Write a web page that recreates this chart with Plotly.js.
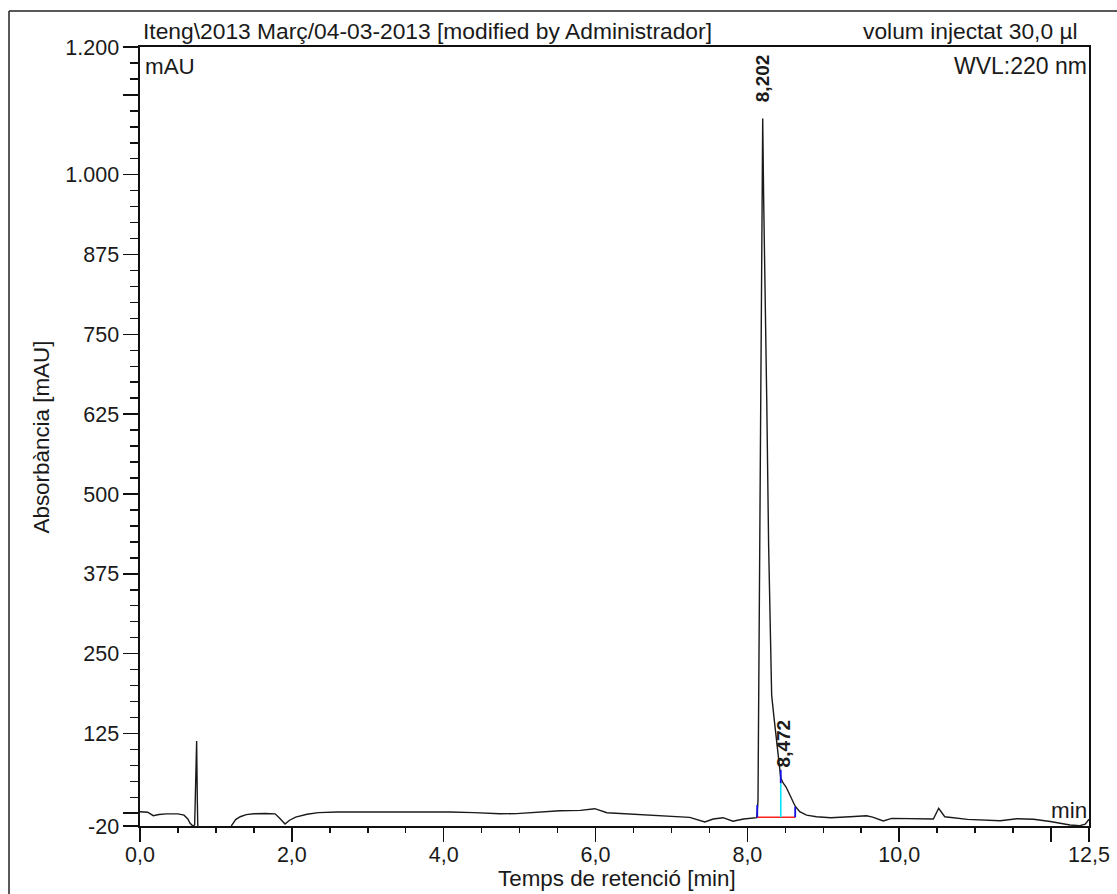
<!DOCTYPE html>
<html>
<head>
<meta charset="utf-8">
<script src="https://cdn.plot.ly/plotly-3.0.1.min.js"></script>
<style>
  html, body { margin: 0; padding: 0; background: #fff; }
  #chart { width: 1117px; height: 894px; }
</style>
</head>
<body>
<div id="chart"></div>
<script>
// Retention time (min)
const timeMin = [
  0.0, 0.1, 0.175, 0.25, 0.35, 0.5, 0.58, 0.63, 0.66, 0.70,
  0.72, 0.735, 0.746, 0.755, 0.765, 0.85, 1.0, 1.12, 1.19, 1.21,
  1.26, 1.32, 1.4, 1.5, 1.65, 1.78, 1.84, 1.91, 1.97, 2.05,
  2.2, 2.35, 2.6, 3.0, 3.42, 3.8, 4.08, 4.4, 4.74, 4.96,
  5.2, 5.53, 5.8, 5.99, 6.15, 6.5, 6.94, 7.24, 7.44, 7.55,
  7.68, 7.81, 7.95, 8.08, 8.125, 8.14, 8.15, 8.16, 8.175, 8.19,
  8.202, 8.215, 8.235, 8.255, 8.28, 8.30, 8.32, 8.35, 8.386, 8.42,
  8.44, 8.473, 8.51, 8.56, 8.63, 8.69, 8.78, 8.91, 9.1, 9.35,
  9.57, 9.65, 9.79, 9.9, 10.01, 10.23, 10.45, 10.52, 10.6, 10.9,
  11.1, 11.33, 11.55, 11.77, 11.99, 12.25, 12.38, 12.45, 12.5
];
// Absorbance (mAU)
const absorbance = [
  2.4, 1.5, -3.9, -2.0, -1.0, -1.0, -3, -9, -15.7, -20.5,
  -18, 60, 113, 20, -45, -60, -60, -45, -22, -18.5,
  -10, -5.5, -2.2, -0.8, -0.5, -1, -8, -17, -11, -6,
  -1.6, 1.0, 1.9, 2.0, 1.4, 1.6, 1.9, 1.0, -0.8, -0.6,
  1.5, 4.0, 4.5, 7.1, 0.8, -1.6, -4.3, -6.4, -13.7, -9,
  -7, -12.6, -9, -7, -7, 20, 200, 450, 750, 950,
  1088, 960, 820, 650, 420, 280, 185, 151, 110, 73,
  55, 47, 41, 28.5, 11, 2.4, -3, -5.5, -7, -5.5,
  -3.9, -6, -12.2, -8, -8, -8.5, -9, 7.7, -5.5, -9.6,
  -10.5, -11.7, -8.6, -9.5, -13, -18.5, -19.5, -17, -9.5
];

// Peak labels
const peakTimes = [8.202, 8.472];
const peakHeights = [1088, 47];
const peakLabels = ["8,202", "8,472"];

// Integration delimiters
const baselineTimes = [8.13, 8.63];
const baselineValue = -6.4;
const delimTimes = [8.13, 8.44, 8.63];
const delimTops = [13, 47, 10];
const splitTime = 8.44;
const splitMarkTop = 68;

// Axis ticks
const xTickVals = [0, 2, 4, 6, 8, 10, 12, 12.5];
const xTickText = ["0,0", "2,0", "4,0", "6,0", "8,0", "10,0", "", "12,5"];
const yTickVals = [-20, 0, 125, 250, 375, 500, 625, 750, 875, 1000, 1125, 1200];
const yTickText = ["-20", "", "125", "250", "375", "500", "625", "750", "875", "1.000", "", "1.200"];

const FONT = "Arial, 'Liberation Sans', sans-serif";
const TXT = "#1a1a1a";

const traces = [
  {
    x: timeMin, y: absorbance, type: "scatter", mode: "lines",
    line: { color: "#1a1a1a", width: 1.4 }, hoverinfo: "skip", showlegend: false
  },
  {
    x: baselineTimes, y: baselineTimes.map(() => baselineValue),
    type: "scatter", mode: "lines",
    line: { color: "#ff2020", width: 1.6 }, hoverinfo: "skip", showlegend: false
  },
  {
    x: [splitTime, splitTime], y: [baselineValue, delimTops[1]],
    type: "scatter", mode: "lines",
    line: { color: "#00e5ff", width: 1.6 }, hoverinfo: "skip", showlegend: false
  },
  {
    x: [delimTimes[0], delimTimes[0], null, splitTime, splitTime, null, delimTimes[2], delimTimes[2]],
    y: [baselineValue, delimTops[0], null, delimTops[1], splitMarkTop, null, baselineValue, delimTops[2]],
    type: "scatter", mode: "lines",
    line: { color: "#1010e0", width: 1.8 }, hoverinfo: "skip", showlegend: false
  }
];

const annotations = [
  { xref: "paper", yref: "paper", x: 0.001, y: 1.0205, xanchor: "left", yanchor: "middle",
    text: "Iteng\\2013 Març/04-03-2013 [modified by Administrador]", showarrow: false,
    font: { family: FONT, size: 22.8, color: TXT } },
  { xref: "paper", yref: "paper", x: 0.9905, y: 1.0205, xanchor: "right", yanchor: "middle",
    text: "volum injectat 30,0 µl", showarrow: false,
    font: { family: FONT, size: 22.8, color: TXT } },
  { xref: "paper", yref: "paper", x: 0.003, y: 0.9755, xanchor: "left", yanchor: "middle",
    text: "mAU", showarrow: false, font: { family: FONT, size: 22.4, color: TXT } },
  { xref: "paper", yref: "paper", x: 0.9995, y: 0.9755, xanchor: "right", yanchor: "middle",
    text: "WVL:220 nm", showarrow: false, font: { family: FONT, size: 23, color: TXT } },
  { xref: "paper", yref: "paper", x: 0.9995, y: 0.0199, xanchor: "right", yanchor: "middle",
    text: "min", showarrow: false, font: { family: FONT, size: 22.4, color: TXT } },
  { xref: "paper", yref: "paper", x: 0.5026, y: -0.0668, xanchor: "center", yanchor: "middle",
    text: "Temps de retenció [min]", showarrow: false, font: { family: FONT, size: 22.4, color: TXT } },
  { xref: "paper", yref: "paper", x: -0.1033, y: 0.5, xanchor: "center", yanchor: "middle",
    textangle: -90, text: "Absorbància [mAU]", showarrow: false,
    font: { family: FONT, size: 22.4, color: TXT } }
];
peakTimes.forEach((t, i) => {
  annotations.push({
    x: t, y: peakHeights[i], xref: "x", yref: "y", xanchor: "center", yanchor: "bottom",
    yshift: 14, textangle: -90, text: "<b>" + peakLabels[i] + "</b>", showarrow: false,
    font: { family: FONT, size: 19, color: TXT }
  });
});

const axisCommon = {
  showgrid: false, zeroline: false, showline: true, mirror: true,
  linecolor: "#111", linewidth: 1.6, ticks: "outside", tickcolor: "#111", tickwidth: 1.5,
  tickmode: "array"
};

const layout = {
  width: 1117, height: 894,
  margin: { l: 140, r: 28, t: 47, b: 68, pad: 0 },
  paper_bgcolor: "#fff", plot_bgcolor: "#fff",
  showlegend: false,
  xaxis: Object.assign({}, axisCommon, {
    range: [0, 12.5], tickvals: xTickVals, ticktext: xTickText, ticklen: 14,
    ticklabelstandoff: -5,
    tickfont: { family: FONT, size: 21.5, color: TXT },
    minor: { ticks: "outside", tick0: 0, dtick: 0.5, ticklen: 5, tickcolor: "#111", tickwidth: 1.5 }
  }),
  yaxis: Object.assign({}, axisCommon, {
    range: [-20, 1200], tickvals: yTickVals, ticktext: yTickText, ticklen: 15,
    tickfont: { family: FONT, size: 21.5, color: TXT },
    minor: { ticks: "outside", tick0: 0, dtick: 25, ticklen: 8, tickcolor: "#111", tickwidth: 1.5 }
  }),
  annotations: annotations,
  shapes: [
    { type: "line", xref: "paper", yref: "paper", x0: -0.13804, x1: 1.1, y0: 1.04621, y1: 1.04621,
      line: { color: "#222", width: 1.5 } },
    { type: "line", xref: "paper", yref: "paper", x0: -0.13804, x1: -0.13804, y0: 1.04621, y1: -0.2,
      line: { color: "#222", width: 1.5 } }
  ]
};

Plotly.newPlot("chart", traces, layout, { staticPlot: true, displayModeBar: false });
</script>
</body>
</html>
